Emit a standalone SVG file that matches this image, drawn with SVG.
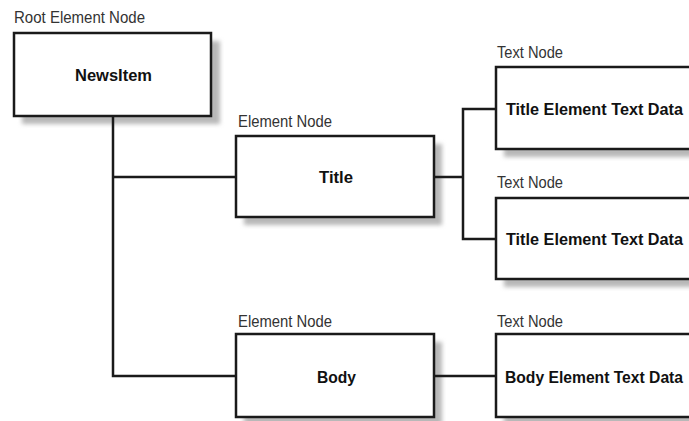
<svg xmlns="http://www.w3.org/2000/svg" width="689" height="421" viewBox="0 0 689 421">
<style>
.box{fill:#fff;stroke:#1a1a1a;stroke-width:2.5}
.shadow{fill:#b8b8b8;filter:url(#blur)}
.lbl{font-family:"Liberation Sans Narrow","Liberation Sans",sans-serif;font-size:16px;fill:#333}
.txt{font-family:"Liberation Sans","Liberation Sans Narrow",sans-serif;font-size:17px;font-weight:bold;fill:#111}
.txt.long{font-size:16px}
.conn{fill:none;stroke:#1a1a1a;stroke-width:2.5}
</style>
<defs>
<filter id="blur" x="-10%" y="-10%" width="120%" height="130%"><feGaussianBlur stdDeviation="2"/></filter>
</defs>
<rect width="689" height="421" fill="#fff"/>
<g id="newsitem">
<rect class="shadow" x="22" y="41" width="198" height="83"/>
<text class="lbl" x="14" y="23" textLength="131" lengthAdjust="spacingAndGlyphs">Root Element Node</text>
<rect class="box" x="14" y="33" width="197" height="83"/>
<text class="txt" x="75" y="81" textLength="77" lengthAdjust="spacingAndGlyphs">NewsItem</text>
</g>
<g id="title">
<rect class="shadow" x="244" y="144" width="198" height="81"/>
<text class="lbl" x="238" y="127" textLength="94" lengthAdjust="spacingAndGlyphs">Element Node</text>
<rect class="box" x="236" y="136" width="198" height="81"/>
<text class="txt" x="319" y="183" textLength="34" lengthAdjust="spacingAndGlyphs">Title</text>
</g>
<g id="body">
<rect class="shadow" x="244" y="342" width="198" height="83"/>
<text class="lbl" x="238" y="327" textLength="94" lengthAdjust="spacingAndGlyphs">Element Node</text>
<rect class="box" x="236" y="334" width="198" height="83"/>
<text class="txt" x="317" y="383" textLength="39" lengthAdjust="spacingAndGlyphs">Body</text>
</g>
<g id="titletext1">
<rect class="shadow" x="504" y="75" width="196" height="82"/>
<text class="lbl" x="497" y="58" textLength="66" lengthAdjust="spacingAndGlyphs">Text Node</text>
<rect class="box" x="496" y="67" width="196" height="82"/>
<text class="txt long" x="506" y="115" textLength="177" lengthAdjust="spacingAndGlyphs">Title Element Text Data</text>
</g>
<g id="titletext2">
<rect class="shadow" x="504" y="206" width="196" height="81"/>
<text class="lbl" x="497" y="188" textLength="66" lengthAdjust="spacingAndGlyphs">Text Node</text>
<rect class="box" x="496" y="198" width="196" height="81"/>
<text class="txt long" x="506" y="245" textLength="177" lengthAdjust="spacingAndGlyphs">Title Element Text Data</text>
</g>
<g id="bodytext">
<rect class="shadow" x="504" y="342" width="196" height="83"/>
<text class="lbl" x="497" y="327" textLength="66" lengthAdjust="spacingAndGlyphs">Text Node</text>
<rect class="box" x="496" y="334" width="196" height="83"/>
<text class="txt long" x="505" y="383" textLength="178" lengthAdjust="spacingAndGlyphs">Body Element Text Data</text>
</g>
<g id="connectors">
<path class="conn" d="M113,117 V376 H235"/>
<path class="conn" d="M113,177 H235"/>
<path class="conn" d="M435,177 H463"/>
<path class="conn" d="M495,109 H463 V239 H495"/>
<path class="conn" d="M435,376 H495"/>
</g>
</svg>
